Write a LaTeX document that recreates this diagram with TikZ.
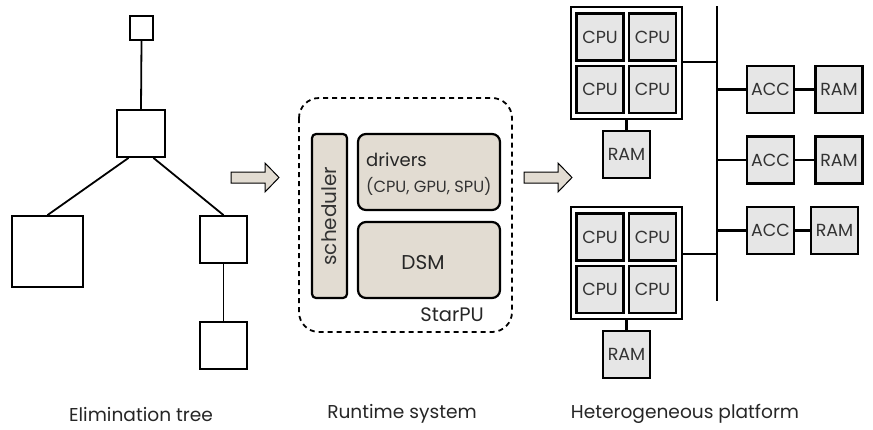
\documentclass[tikz,border=0pt]{standalone}
\usepackage{fontspec}
\setmainfont{Poppins}
\usetikzlibrary{calc}
\definecolor{beige}{HTML}{E2DCD2}
\definecolor{cpugray}{HTML}{E6E6E6}
\tikzset{
  treebox/.style={draw, line width=1.8pt, fill=white, inner sep=0pt},
  treeline/.style={line width=1.8pt},
  rtbox/.style={draw, line width=2.2pt, fill=beige, rounded corners=8pt, inner sep=0pt},
  hwbox/.style={draw, line width=2.2pt, fill=cpugray, inner sep=0pt, minimum width=47pt, minimum height=47pt, font=\fontsize{17.5}{17.5}\selectfont, text=black!80},
  outerbox/.style={draw, line width=1.2pt, fill=white, inner sep=0pt, minimum width=111pt, minimum height=112pt},
  wire/.style={line width=2.4pt},
  bigarrow/.style={draw, line width=1pt, fill=beige},
  caption/.style={font=\fontsize{18.6}{18.6}\selectfont, text=black!85, inner sep=0pt}
}
\begin{document}
\begin{tikzpicture}[x=1pt,y=-1pt]
\useasboundingbox (0,0) rectangle (873,429);
% ---------- elimination tree ----------
\node[treebox, minimum width=23pt, minimum height=24pt] (t1) at (141.5,28) {};
\node[treebox, minimum width=48pt, minimum height=47pt] (t2) at (141,133.5) {};
\node[treebox, minimum width=71pt, minimum height=71pt] (t3) at (47.5,251.5) {};
\node[treebox, minimum width=47pt, minimum height=47pt] (t4) at (223.5,239.5) {};
\node[treebox, minimum width=47pt, minimum height=47pt] (t5) at (223.5,345.5) {};
\draw[treeline] (t1.south) -- (t2.north);
\draw[treeline] ($(t2.south west)!0.25!(t2.south east)$) -- (t3.north);
\draw[treeline] ($(t2.south west)!0.75!(t2.south east)$) -- (t4.north);
\draw[treeline] (t4.south) -- (t5.north);
\node[caption] (c1) at (141,414) {Elimination tree};
% ---------- arrows ----------
\draw[bigarrow] (231,172) -- (265,172) -- (265,163) -- (279,177.5) -- (265,192) -- (265,183) -- (231,183) -- cycle;
\draw[bigarrow] (524,172) -- (558,172) -- (558,163) -- (572,177.5) -- (558,192) -- (558,183) -- (524,183) -- cycle;
% ---------- runtime system ----------
\draw[line width=1.8pt, dash pattern=on 5pt off 4pt, rounded corners=20pt] (299,98) rectangle (512,332);
\node[rtbox, rounded corners=4pt, minimum width=35pt, minimum height=164pt] (sched) at (329.5,216) {};
\node[rotate=90, font=\fontsize{20}{20}\selectfont, text=black!80, inner sep=0pt] at (sched.center) {scheduler};
\node[rtbox, minimum width=142pt, minimum height=76pt] (drv) at (429,172) {};
\node[anchor=west, font=\fontsize{18}{18}\selectfont, text=black!85, inner sep=0pt] (drvt) at (366,160) {drivers};
\node[anchor=west, font=\fontsize{16.2}{16.2}\selectfont, text=black!80, inner sep=0pt] (drvs) at (366,186) {(CPU, GPU, SPU)};
\node[rtbox, minimum width=142pt, minimum height=76pt] (dsm) at (429,260) {};
\node[font=\fontsize{20}{20}\selectfont, text=black!85, inner sep=0pt] at (423,263) {DSM};
\node[anchor=east, font=\fontsize{19.5}{19.5}\selectfont, text=black!85, inner sep=0pt] (starpu) at (484,315) {StarPU};
\node[caption] (c2) at (402,414) {Runtime system};
% ---------- platform ----------
\coordinate (busT) at (717,6);
\coordinate (busB) at (717,301);
\node[outerbox] (o1) at (626.5,63) {};
\node[hwbox] (c11) at (600,37) {CPU};
\node[hwbox] (c12) at (652.5,37) {CPU};
\node[hwbox] (c13) at (600,89.5) {CPU};
\node[hwbox] (c14) at (652.5,89.5) {CPU};
\node[hwbox] (r1) at (626.5,154.5) {RAM};
\node[outerbox] (o2) at (626.5,263) {};
\node[hwbox] (c21) at (600,237) {CPU};
\node[hwbox] (c22) at (652.5,237) {CPU};
\node[hwbox] (c23) at (600,289.5) {CPU};
\node[hwbox] (c24) at (652.5,289.5) {CPU};
\node[hwbox] (r2) at (626.5,354.5) {RAM};
\node[hwbox] (a1) at (770.5,89.5) {ACC};
\node[hwbox] (m1) at (839,89.5) {RAM};
\node[hwbox] (a2) at (770.5,160) {ACC};
\node[hwbox] (m2) at (839,160) {RAM};
\node[hwbox] (a3) at (770.5,230.5) {ACC};
\node[hwbox] (m3) at (834.5,230.5) {RAM};
\draw[line width=2.8pt] (busT) -- (busB);
\draw[wire] (o1.south) -- (r1.north);
\draw[wire] (o2.south) -- (r2.north);
\coordinate (o1b) at ($(o1.east)+(0,-1)$);
\coordinate (o2b) at ($(o2.east)+(0,-9)$);
\draw[wire] (o1b) -- (busT |- o1b);
\draw[wire] (o2b) -- (busT |- o2b);
\draw[wire] (busT |- a1.west) -- (a1.west);
\draw[wire] (busT |- a2.west) -- (a2.west);
\draw[wire] (busT |- a3.west) -- (a3.west);
\draw[wire] (a1.east) -- (m1.west);
\draw[wire] (a2.east) -- (m2.west);
\draw[wire] (a3.east) -- (m3.west);
\node[caption] (c3) at (685,414) {Heterogeneous platform};
\end{tikzpicture}
\end{document}
